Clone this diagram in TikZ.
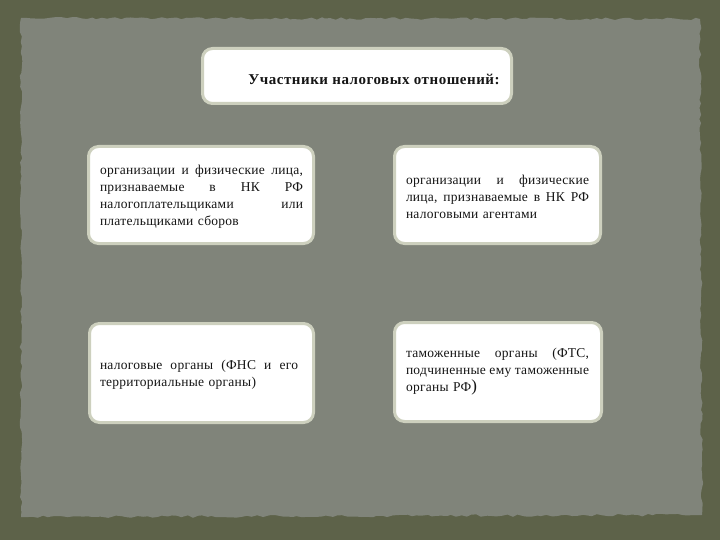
\documentclass[tikz,border=0pt]{standalone}
\usepackage{fontspec}
\setmainfont{Liberation Serif}
\usetikzlibrary{decorations.pathmorphing}
\definecolor{outerc}{HTML}{5D6249}
\definecolor{paperc}{HTML}{80847A}
\definecolor{boxedge}{HTML}{CDD0BE}
\definecolor{ink}{HTML}{151515}
\newcommand\jl[2]{\hbox to #1{#2}}
\begin{document}
\begin{tikzpicture}[x=1pt,y=-1pt,
  boxst/.style={draw=boxedge, line width=3pt, fill=white, rounded corners=10pt, inner sep=0pt},
  txt/.style={inner sep=0pt, align=left, text=ink, font=\fontsize{13.5}{17}\selectfont\addfontfeature{LetterSpace=2}},
  ttl/.style={inner sep=0pt, text=ink, font=\bfseries\fontsize{15}{17}\selectfont\addfontfeature{LetterSpace=3.5}}]
\useasboundingbox (0,0) rectangle (720,540);
\fill[outerc] (0,0) rectangle (720,540);
\pgfmathsetseed{11}
\fill[paperc, decorate, decoration={random steps, segment length=5pt, amplitude=1.3pt}]
  (21,18) -- (700,19) -- (702,515) -- (21,517) -- cycle;
% boxes
\node[boxst, minimum width=309pt, minimum height=55pt] (title) at (357,76) {};
\node[boxst, minimum width=225pt, minimum height=97pt] (b1) at (201,195) {};
\node[boxst, minimum width=206pt, minimum height=97pt] (b2) at (497.5,195) {};
\node[boxst, minimum width=224pt, minimum height=99pt] (b3) at (201.5,373) {};
\node[boxst, minimum width=207pt, minimum height=99pt] (b4) at (498,372) {};
% texts
\node[ttl] (tt) at (374,79) {Участники налоговых отношений:};
\node[txt, text width=203pt] (t1) at (201.5,197) {%
\jl{203pt}{организации\hfill и\hfill физические\hfill лица,}
\jl{203pt}{признаваемые\hfill в\hfill НК\hfill РФ}
\jl{203pt}{налогоплательщиками\hfill или}
плательщиками сборов};
\node[txt, text width=183pt] (t2) at (497.5,197) {%
\jl{183pt}{организации\hfill и\hfill физические}
\jl{183pt}{лица,\hfill признаваемые\hfill в\hfill НК\hfill РФ}
налоговыми агентами};
\node[txt, text width=198pt] (t3) at (199,375) {%
\jl{198pt}{налоговые\hfill органы\hfill (ФНС\hfill и\hfill его}
территориальные органы)};
\node[txt, text width=183pt] (t4) at (497.5,372) {%
\jl{183pt}{таможенные\hfill органы\hfill (ФТС,}
\jl{183pt}{подчиненные\hfill ему\hfill таможенные}
органы РФ{\fontsize{17}{17}\selectfont)}};
\end{tikzpicture}
\end{document}
